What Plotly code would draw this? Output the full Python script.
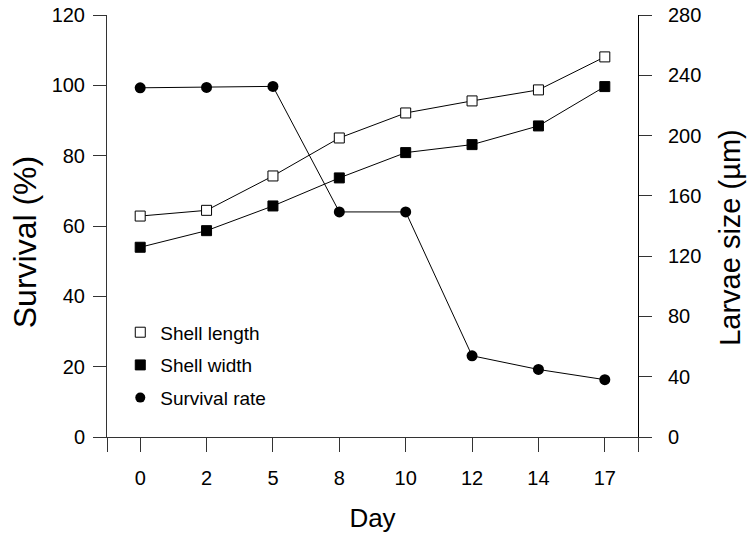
import plotly.graph_objects as go

days = ["0", "2", "5", "8", "10", "12", "14", "17"]
survival = [99.3, 99.4, 99.7, 64.0, 64.0, 23.1, 19.2, 16.3]
shell_length = [146.6, 150.4, 173.2, 198.4, 215.0, 223.0, 230.3, 252.2]
shell_width = [125.9, 136.9, 153.3, 171.9, 188.7, 194.0, 206.4, 232.5]

xpos = list(range(len(days)))
FONT = "Liberation Sans, Arial, sans-serif"

sq_open = dict(symbol="square", size=10, color="white", line=dict(color="black", width=1))
sq_fill = dict(symbol="square", size=10, color="black", line=dict(color="black", width=1))
circ = dict(symbol="circle", size=11, color="black")

fig = go.Figure()
fig.add_trace(go.Scatter(x=xpos, y=shell_length, yaxis="y2", showlegend=False,
                         mode="lines+markers", line=dict(color="black", width=1), marker=sq_open))
fig.add_trace(go.Scatter(x=xpos, y=shell_width, yaxis="y2", showlegend=False,
                         mode="lines+markers", line=dict(color="black", width=1), marker=sq_fill))
fig.add_trace(go.Scatter(x=xpos, y=survival, yaxis="y", showlegend=False,
                         mode="lines+markers", line=dict(color="black", width=1), marker=circ))
# legend entries (markers only, as in the reference legend)
for name, mk, grp in [("Shell length", sq_open, "a"), ("Shell width", sq_fill, "b"),
                      ("Survival rate", dict(circ, size=10), "c")]:
    fig.add_trace(go.Scatter(x=[None], y=[None], mode="markers", marker=mk,
                             name=name, legendgroup=grp))

fig.update_layout(
    width=748, height=533,
    margin=dict(l=107, r=110, t=15, b=96),
    plot_bgcolor="white", paper_bgcolor="white",
    font=dict(family=FONT, color="black", size=20),
    showlegend=True,
    legend=dict(x=0.025, y=0.293, xanchor="left", yanchor="top",
                font=dict(size=19, family=FONT), bgcolor="rgba(0,0,0,0)",
                tracegroupgap=5, itemwidth=30),
    xaxis=dict(
        range=[-0.5, 7.5], tickmode="array",
        tickvals=[-0.5] + xpos + [7.5], ticktext=[""] + days + [""],
        ticks="outside", ticklen=14, tickcolor="#333", tickwidth=1,
        showline=True, linecolor="#333", linewidth=1,
        showgrid=False, zeroline=False, automargin=False,
        tickfont=dict(size=20), ticklabelstandoff=9,
        title=dict(text="Day", font=dict(size=26), standoff=20),
    ),
    yaxis=dict(
        range=[0, 120], dtick=20, ticks="outside", ticklen=13,
        tickcolor="#333", showline=True, linecolor="#333", linewidth=1,
        showgrid=False, zeroline=False, automargin=False, tickfont=dict(size=20),
        ticklabelstandoff=4,
    ),
    yaxis2=dict(
        range=[0, 280], dtick=40, ticks="outside", ticklen=13,
        tickcolor="#333", showline=True, linecolor="black", linewidth=1,
        showgrid=False, zeroline=False, overlaying="y", side="right",
        automargin=False, tickfont=dict(size=20), ticklabelstandoff=12,
    ),
    annotations=[
        dict(text="Survival (%)", textangle=-90, xref="paper", yref="paper",
             x=-0.154, y=0.462, xanchor="center", yanchor="middle", showarrow=False,
             font=dict(size=32, family=FONT)),
        dict(text="Larvae size (µm)", textangle=-90, xref="paper", yref="paper",
             x=1.173, y=0.474, xanchor="center", yanchor="middle", showarrow=False,
             font=dict(size=29, family=FONT)),
    ],
)

fig.write_html("out.html")
